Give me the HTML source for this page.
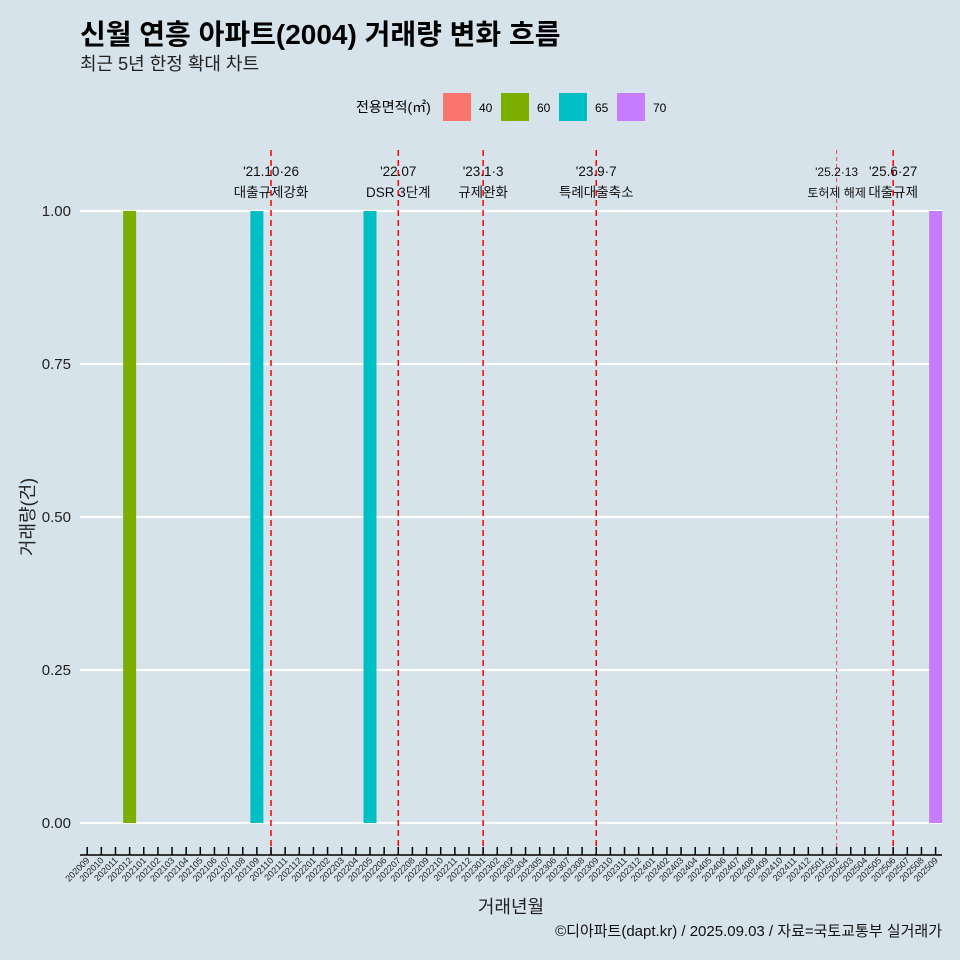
<!DOCTYPE html>
<html><head><meta charset="utf-8">
<style>
html,body{margin:0;padding:0;background:#d6e3ea;}
svg{display:block;font-family:"Liberation Sans","Noto Sans CJK KR",sans-serif;}
</style></head>
<body>
<svg id="chart" width="960" height="960" viewBox="0 0 960 960">
<rect width="960" height="960" fill="#d6e3ea"/>
<text x="80" y="44" font-size="28" font-weight="bold" fill="#000">신월 연흥 아파트(2004) 거래량 변화 흐름</text>
<text x="80" y="70" font-size="18" fill="#222">최근 5년 한정 확대 차트</text>
<g>
<text x="356" y="112" font-size="14" fill="#000">전용면적(㎡)</text>
<rect x="443" y="93" width="28" height="28" fill="#f8766d"/>
<text x="479" y="112" font-size="12">40</text>
<rect x="501" y="93" width="28" height="28" fill="#7cae00"/>
<text x="537" y="112" font-size="12">60</text>
<rect x="559" y="93" width="28" height="28" fill="#00bfc4"/>
<text x="595" y="112" font-size="12">65</text>
<rect x="617" y="93" width="28" height="28" fill="#c77cff"/>
<text x="653" y="112" font-size="12">70</text>
</g>
<g id="grid"></g><g id="bars"></g><g id="events"></g><g id="axes"></g>
<text x="511" y="913" font-size="18" text-anchor="middle" fill="#222">거래년월</text>
<text transform="translate(34,517) rotate(-90)" font-size="18" text-anchor="middle" fill="#222">거래량(건)</text>
<text x="942" y="936" font-size="15" text-anchor="end" fill="#111">©디아파트(dapt.kr) / 2025.09.03 / 자료=국토교통부 실거래가</text>
</svg>
<script>
const months = [];
for (let y = 2020, m = 9; y * 100 + m <= 202509; ) { months.push(String(y * 100 + m)); m++; if (m > 12) { m = 1; y++; } }
const barMonths = ["202012", "202109", "202205", "202509"];
const barValues = [1, 1, 1, 1];
const barAreas = ["60", "65", "65", "70"];
const yTicks = [0, 0.25, 0.5, 0.75, 1.0];
const yTickLabels = ["0.00", "0.25", "0.50", "0.75", "1.00"];
const eventMonths = ["202110", "202207", "202301", "202309", "202502", "202506"];
const eventLine1 = ["'21.10·26", "'22.07", "'23.1·3", "'23.9·7", "'25.2·13", "'25.6·27"];
const eventLine2 = ["대출규제강화", "DSR 3단계", "규제완화", "특례대출축소", "토허제 해제", "대출규제"];

const colors = {"40":"#f8766d","60":"#7cae00","65":"#00bfc4","70":"#c77cff"};
const NS = "http://www.w3.org/2000/svg";
const x0 = 87.2, step = 14.14;
const xScale = m => x0 + months.indexOf(m) * step;
const yScale = v => 823 - v * 612;
function mk(tag, attrs, parent) { const e = document.createElementNS(NS, tag); for (const k in attrs) e.setAttribute(k, attrs[k]); parent.appendChild(e); return e; }
const grid = document.getElementById("grid"), bars = document.getElementById("bars"), ev = document.getElementById("events"), axes = document.getElementById("axes");

yTicks.forEach((v, i) => {
  const l = mk("line", {x1: 80, x2: 942, y1: yScale(v), y2: yScale(v), stroke: "#fff", "stroke-width": 2.2}, grid);
  
  
  const t = mk("text", {x: 71, y: yScale(v) + 5, "font-size": 15, "text-anchor": "end", fill: "#222"}, axes);
  t.textContent = yTickLabels[i];
  
  
});

barMonths.forEach((m, i) => {
  const x = xScale(m);
  const r = mk("rect", {x: x - 6.5, width: 13, y: yScale(barValues[i]), height: yScale(0) - yScale(barValues[i]), fill: colors[barAreas[i]]}, bars);
  
  
});

eventMonths.forEach((m, i) => {
  const x = xScale(m);
  const small = m === "202502";
  const l = mk("line", {x1: x, x2: x, y1: 150, y2: 855, stroke: small ? "#e8504f" : "#ff0000", "stroke-width": small ? 1 : 1.5, "stroke-dasharray": small ? "4,3" : "6,4"}, ev);
  
  
  const fs = small ? 12 : 13.5;
  const t1 = mk("text", {x: x, y: 176, "font-size": fs, "text-anchor": "middle", fill: "#111"}, ev);
  t1.textContent = eventLine1[i];
  
  
  const t2 = mk("text", {x: x, y: 197, "font-size": fs, "text-anchor": "middle", fill: "#111"}, ev);
  t2.textContent = eventLine2[i];
  
  
});

const ax = mk("line", {x1: 80, x2: 942, y1: 855, y2: 855, stroke: "#000", "stroke-width": 1.5}, axes);


months.forEach(m => {
  const x = xScale(m);
  const tk = mk("line", {x1: x, x2: x, y1: 847, y2: 855, stroke: "#000", "stroke-width": 1.5}, axes);
  
  
  const t = mk("text", {transform: `translate(${x + 3},${861}) rotate(-45)`, "font-size": 9, "text-anchor": "end", fill: "#222"}, axes);
  t.textContent = m;
  
  
});
</script>
</body></html>
